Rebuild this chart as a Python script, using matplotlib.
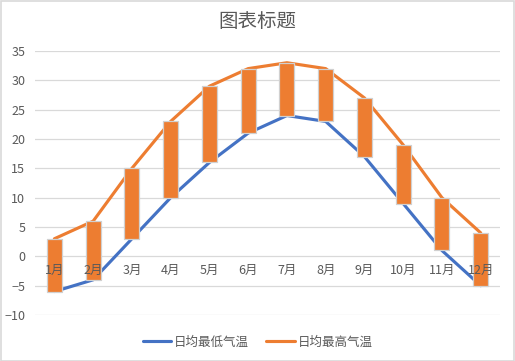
import numpy as np
import matplotlib
matplotlib.use("Agg")
import matplotlib.pyplot as plt
from matplotlib.transforms import offset_copy

plt.rcParams["font.family"] = ["Noto Sans CJK SC", "DejaVu Sans"]

months = ["1月", "2月", "3月", "4月", "5月", "6月", "7月", "8月", "9月", "10月", "11月", "12月"]
low_temp = [-6, -4, 3, 10, 16, 21, 24, 23, 17, 9, 1, -5]
high_temp = [3, 6, 15, 23, 29, 32, 33, 32, 27, 19, 10, 4]
y_ticks = [-10, -5, 0, 5, 10, 15, 20, 25, 30, 35]

text_color = "#595959"
grid_color = "#D9D9D9"
blue = "#4472C4"
orange = "#ED7D31"

fig = plt.figure(figsize=(5.15, 3.61), dpi=100)
ax = fig.add_axes([0.068, 0.1274, 0.903, 0.7313])

x = np.arange(len(months))
ax.plot(x, low_temp, color=blue, lw=2.25, label="日均最低气温", zorder=2,
        solid_capstyle="round")
ax.plot(x, high_temp, color=orange, lw=2.25, label="日均最高气温", zorder=2,
        solid_capstyle="round")

# up bars between low and high
heights = np.array(high_temp) - np.array(low_temp)
ax.bar(x, heights, bottom=low_temp, width=0.39, color=orange,
       edgecolor="#D0D0D0", linewidth=0.9, zorder=3)

ax.set_xlim(-0.5, len(months) - 0.5)
ax.set_ylim(-10, 35)
ax.set_yticks(y_ticks)
ax.set_xticks([])
ax.grid(axis="y", color=grid_color, lw=0.9)
ax.set_axisbelow(True)
for s in ax.spines.values():
    s.set_visible(False)
ax.tick_params(axis="y", length=0, pad=7, labelcolor=text_color, labelsize=9)

# category labels sit just under the zero line
trans = offset_copy(ax.transData, fig=fig, x=0, y=-10, units="points")
for i, m in enumerate(months):
    ax.text(i, 0, m, transform=trans, ha="center", va="center",
            fontsize=9, color=text_color, zorder=4)

fig.text(0.5, 0.94, "图表标题", ha="center", va="center", fontsize=14,
         color=text_color)

fig.legend(loc="center", bbox_to_anchor=(0.5, 0.052), ncol=2, frameon=False,
           fontsize=9, labelcolor=text_color, handlelength=2.3,
           columnspacing=1.4, handletextpad=0.2)

# outer border
fig.patches.append(plt.Rectangle((0.001, 0.001), 0.997, 0.996,
                                 transform=fig.transFigure, fill=False,
                                 edgecolor="#D9D9D9", lw=1.2))

fig.savefig("out.png", dpi=100, facecolor="white")
